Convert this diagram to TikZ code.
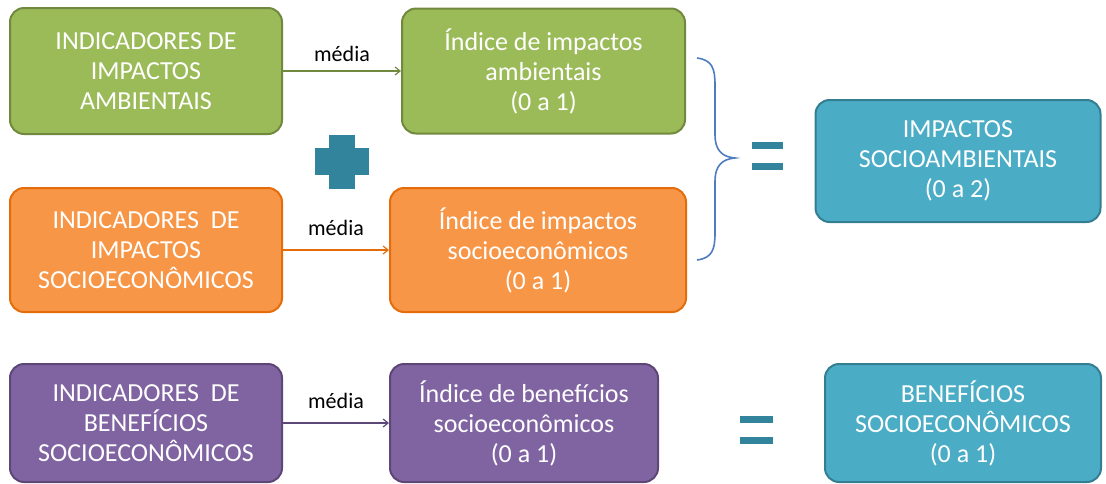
\documentclass[tikz,border=0pt]{standalone}
\usepackage{fontspec}
\setmainfont{Carlito}
\usetikzlibrary{arrows.meta}
\definecolor{gfill}{HTML}{9BBB59}
\definecolor{gline}{HTML}{71893F}
\definecolor{ofill}{HTML}{F79646}
\definecolor{oline}{HTML}{E46C0A}
\definecolor{pfill}{HTML}{8064A2}
\definecolor{pline}{HTML}{5C4776}
\definecolor{tfill}{HTML}{4BACC6}
\definecolor{tline}{HTML}{357D91}
\definecolor{sym}{HTML}{31849B}
\definecolor{brace}{HTML}{4F7BC0}
\tikzset{
  box/.style={rounded corners=14pt, line width=2pt, text=white, align=center,
    font=\fontsize{26}{30}\selectfont, inner sep=0pt},
  gbox/.style={box, fill=gfill, draw=gline},
  obox/.style={box, fill=ofill, draw=oline},
  pbox/.style={box, fill=pfill, draw=pline},
  tbox/.style={box, fill=tfill, draw=tline},
  conn/.style={line width=1.2pt, -{Straight Barb[length=5pt,width=8pt]}},
  lbl/.style={font=\fontsize{22}{24}\selectfont, text=black, above=#1},
  lbl/.default=4pt,
}
\begin{document}
\begin{tikzpicture}[x=1pt,y=-1pt]
\useasboundingbox (0,0) rectangle (1106,483);
\node[gbox, minimum width=272pt, minimum height=126pt] (b1) at (146,71) {INDICADORES DE\\IMPACTOS\\AMBIENTAIS};
\node[gbox, minimum width=283pt, minimum height=125pt] (b2) at (543.5,71) {Índice de impactos\\ambientais\\(0 a 1)};
\node[obox, minimum width=272pt, minimum height=124pt] (b3) at (146,250) {INDICADORES\ \ DE\\IMPACTOS\\SOCIOECONÔMICOS};
\node[obox, minimum width=296pt, minimum height=124pt] (b4) at (538,250) {Índice de impactos\\socioeconômicos\\(0 a 1)};
\node[pbox, minimum width=272pt, minimum height=118pt] (b5) at (146,423) {INDICADORES\ \ DE\\BENEFÍCIOS\\SOCIOECONÔMICOS};
\node[pbox, minimum width=268pt, minimum height=118pt] (b6) at (524,423) {Índice de benefícios\\socioeconômicos\\(0 a 1)};
\node[tbox, minimum width=285pt, minimum height=122pt] (b7) at (958,161) {IMPACTOS\\SOCIOAMBIENTAIS\\(0 a 2)};
\node[tbox, minimum width=276pt, minimum height=118pt] (b8) at (963,423) {BENEFÍCIOS\\SOCIOECONÔMICOS\\(0 a 1)};

\draw[conn, gline] (b1) -- node[lbl=5pt] {média} (b2);
\draw[conn, oline] (b3) -- node[lbl=10pt] {média} (b4);
\draw[conn, pline] (b5) -- node[lbl=10pt] {média} (b6);

% plus
\fill[sym] (315,148) rectangle (369,175);
\fill[sym] (329,135) rectangle (355,189);
% equals top
\fill[sym] (752,142) rectangle (783,149);
\fill[sym] (752,163) rectangle (783,170);
% equals bottom
\fill[sym] (740,416) rectangle (773,423);
\fill[sym] (740,437) rectangle (773,444);
% brace
\draw[brace, line width=1.6pt] (697,58) .. controls (712,60) and (715,68) .. (715,85)
  -- (715,135) .. controls (715,150) and (722,157) .. (735,158)
  .. controls (722,159) and (715,166) .. (715,181)
  -- (715,233) .. controls (715,250) and (712,258) .. (697,260);
\end{tikzpicture}
\end{document}
